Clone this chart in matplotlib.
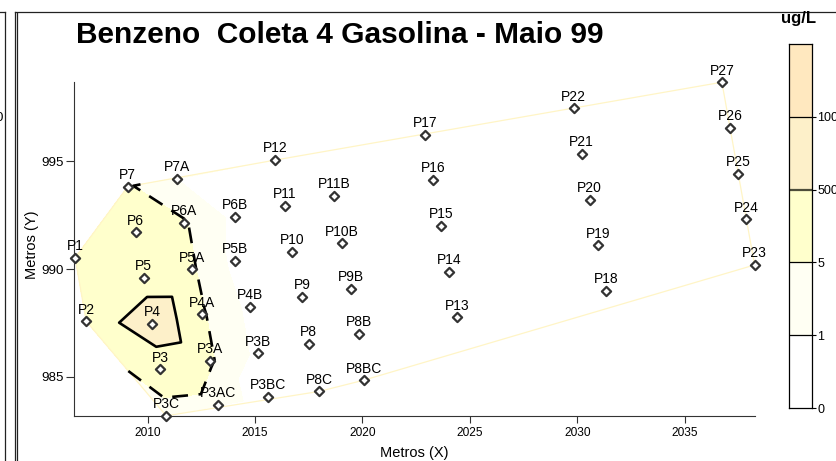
import matplotlib.pyplot as plt
import matplotlib.tri as mtri
from matplotlib.lines import Line2D
from matplotlib.collections import LineCollection

plt.rcParams['font.family'] = ['Liberation Sans', 'DejaVu Sans']

# pocos de monitoramento: coordenadas (m) e benzeno (ug/L)
pocos = ['P1', 'P2', 'P3', 'P3A', 'P3AC', 'P3B', 'P3BC', 'P3C',
         'P4', 'P4A', 'P4B', 'P5', 'P5A', 'P5B', 'P6', 'P6A', 'P6B',
         'P7', 'P7A', 'P8', 'P8B', 'P8BC', 'P8C', 'P9', 'P9B',
         'P10', 'P10B', 'P11', 'P11B', 'P12', 'P13', 'P14', 'P15',
         'P16', 'P17', 'P18', 'P19', 'P20', 'P21', 'P22', 'P23',
         'P24', 'P25', 'P26', 'P27']
x_m = [2006.63, 2007.15, 2010.60, 2012.92, 2013.29, 2015.14, 2015.60, 2010.87,
       2010.21, 2012.52, 2014.78, 2009.82, 2012.08, 2014.06, 2009.45, 2011.71, 2014.06,
       2009.08, 2011.37, 2017.50, 2019.82, 2020.06, 2017.99, 2017.19, 2019.47,
       2016.72, 2019.05, 2016.40, 2018.67, 2015.93, 2024.41, 2024.04, 2023.65,
       2023.28, 2022.91, 2031.33, 2030.94, 2030.57, 2030.20, 2029.83, 2038.24,
       2037.85, 2037.48, 2037.09, 2036.72]
y_m = [990.52, 987.58, 985.35, 985.75, 983.71, 986.10, 984.07, 983.20,
       987.45, 987.91, 988.24, 989.58, 989.99, 990.37, 991.70, 992.13, 992.42,
       993.82, 994.17, 986.54, 987.00, 984.85, 984.33, 988.70, 989.07,
       990.79, 991.20, 992.92, 993.38, 995.05, 987.76, 989.87, 992.00,
       994.13, 996.23, 988.98, 991.10, 993.20, 995.33, 997.45, 990.19,
       992.30, 994.42, 996.54, 998.66]
benzeno = [20, 10, 12, 5.5, 2, 0, 0, 0.5,
           990, 5.5, 0, 160, 5.5, 0, 60, 5.5, 0,
           5.5, 1, 0, 0, 0, 0, 0, 0,
           0, 0, 0, 0, 0, 0, 0, 0,
           0, 0, 0, 0, 0, 0, 0, 0,
           0, 0, 0, 0]

niveis = [0, 1, 5, 500, 1000, 1500]
cores = ['#FFFFFF', '#FFFFF3', '#FFFFCC', '#FDF0C9', '#FFE8BF']
rotulos_escala = ['0', '1', '5', '500', '1000']

W, H = 837, 461
fig = plt.figure(figsize=(W / 100, H / 100), dpi=100)


def px(x, y):
    return x / W, 1 - y / H


# moldura
for xs, ys in [([0, 4.7], [12.5, 12.5]), ([4.7, 4.7], [12.5, 461]),
               ([15.3, 837], [12.5, 12.5]), ([15.3, 15.3], [12.5, 461]),
               ([17.3, 17.3], [13.5, 461])]:
    p0, p1 = px(xs[0], ys[0]), px(xs[1], ys[1])
    fig.add_artist(Line2D([p0[0], p1[0]], [p0[1], p1[1]], color='#222222',
                          lw=0.9, transform=fig.transFigure))
fig.text(3 / W, 1 - 118 / H, '0', ha='right', va='center', fontsize=9.6)

ax = fig.add_axes([74 / W, 45 / H, 681 / W, 334 / H])
tri = mtri.Triangulation(x_m, y_m)

ax.tricontourf(tri, benzeno, levels=niveis, colors=cores, zorder=1)

# contorno da area interpolada
borda = []
for t, viz in zip(tri.triangles, tri.neighbors):
    for j in range(3):
        if viz[j] == -1:
            a, b = t[j], t[(j + 1) % 3]
            borda.append([(x_m[a], y_m[a]), (x_m[b], y_m[b])])
ax.add_collection(LineCollection(borda, colors='#FFF5C6', linewidths=0.9, zorder=2))

cs5 = ax.tricontour(tri, benzeno, levels=[5], colors='black', linewidths=1.9, zorder=3)
cs5.set_linestyle((0, (6, 4)))
ax.tricontour(tri, benzeno, levels=[500], colors='black', linewidths=1.9, zorder=3)

ax.scatter(x_m, y_m, marker='D', s=22, facecolor='white', edgecolor='#333333',
           linewidth=1.6, zorder=5, clip_on=False)
for nome, xi, yi in zip(pocos, x_m, y_m):
    ax.annotate(nome, (xi, yi), xytext=(0, 5.5), textcoords='offset points',
                ha='center', va='baseline', fontsize=10, zorder=6,
                annotation_clip=False)

ax.set_xlim(2006.58, 2038.26)
ax.set_ylim(983.19, 998.67)
ax.set_xticks([2010, 2015, 2020, 2025, 2030, 2035])
ax.set_yticks([985, 990, 995])
for s in ['top', 'right']:
    ax.spines[s].set_visible(False)
for s in ['left', 'bottom']:
    ax.spines[s].set_color('#333333')
ax.tick_params(axis='x', labelsize=8.6, length=5, pad=3, color='#333333')
ax.tick_params(axis='y', labelsize=9.6, length=6, pad=1.5, color='#333333')
ax.set_xlabel('Metros (X)', fontsize=10.5)
ax.xaxis.set_label_coords(0.5, -0.09)
ax.set_ylabel('Metros (Y)', fontsize=10.5)
ax.yaxis.set_label_coords(-0.051, 0.512)

fig.text(76 / W, 1 - 43 / H, 'Benzeno  Coleta 4 Gasolina - Maio 99',
         fontsize=21.5, fontweight='bold', va='baseline')

# escala de cores
cax = fig.add_axes([789 / W, (H - 408) / H, 23 / W, 364 / H])
for i, cor in enumerate(cores):
    cax.bar(0, 1, bottom=i, width=1, color=cor, edgecolor='none')
for i in range(1, len(cores)):
    if rotulos_escala[i] == '500':
        cax.axhline(i, color='#4d4d3a', lw=1.6)
    else:
        cax.axhline(i, color='black', lw=0.9)
cax.set_xlim(-0.5, 0.5)
cax.set_ylim(0, len(cores))
cax.set_xticks([])
cax.set_yticks(range(len(rotulos_escala)))
cax.set_yticklabels(rotulos_escala)
cax.yaxis.tick_right()
cax.tick_params(axis='y', labelsize=9, length=3, pad=1)
for s in cax.spines.values():
    s.set_linewidth(0.9)
fig.text(798.5 / W, 1 - 23 / H, 'ug/L', ha='center', va='baseline',
         fontsize=12, fontweight='bold')

fig.savefig('out.png', dpi=100)
